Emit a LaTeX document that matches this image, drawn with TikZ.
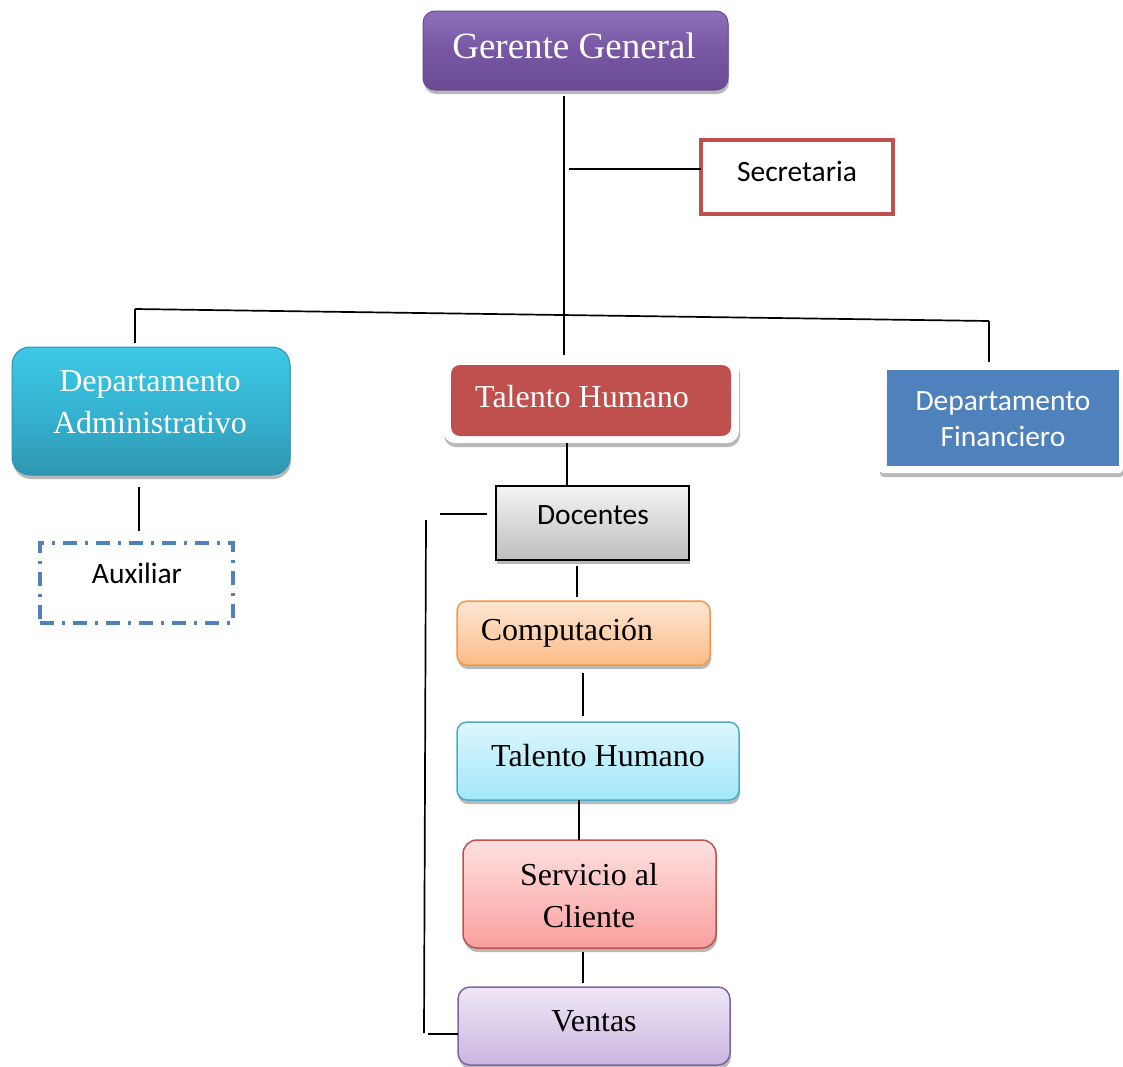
\documentclass[tikz,border=0pt]{standalone}
\usepackage{fontspec}
\setmainfont{Liberation Serif}
\newfontfamily\calfont{Carlito}
\usetikzlibrary{shadows}
\definecolor{ggtop}{HTML}{8E6FBA}
\definecolor{ggmid}{HTML}{7757A3}
\definecolor{ggbot}{HTML}{6B4B93}
\definecolor{ggdraw}{HTML}{6A4A92}
\definecolor{admtop}{HTML}{3CC8E6}
\definecolor{admmid}{HTML}{35B3D1}
\definecolor{admbot}{HTML}{2F97B1}
\definecolor{admdraw}{HTML}{2E93AD}
\definecolor{thred}{HTML}{C0504D}
\definecolor{finblue}{HTML}{4F81BD}
\definecolor{doctop}{HTML}{F4F4F4}
\definecolor{docbot}{HTML}{BEBEBE}
\definecolor{comptop}{HTML}{FEE6D3}
\definecolor{compbot}{HTML}{FBBC88}
\definecolor{compdraw}{HTML}{F79646}
\definecolor{thtop}{HTML}{DDF6FD}
\definecolor{thbot}{HTML}{A2E7FA}
\definecolor{thdraw}{HTML}{4BACC6}
\definecolor{servtop}{HTML}{FFE0E0}
\definecolor{servbot}{HTML}{F8A09E}
\definecolor{ventop}{HTML}{EEE7F6}
\definecolor{venbot}{HTML}{CBB6E0}
\definecolor{vendraw}{HTML}{8064A2}
\tikzset{
  conn/.style={line width=1.7pt, draw=black},
  box/.style={inner sep=0pt, outer sep=0pt},
  shad/.style={drop shadow={shadow xshift=1pt, shadow yshift=-4pt, opacity=0.28, fill=black}},
  serif/.style={font=\fontsize{32}{42}\selectfont, text=black, align=center, inner sep=0pt},
  wserif/.style={serif, text=white},
  cal/.style={font=\calfont\fontsize{29.5}{36}\selectfont, text=black, align=center, inner sep=0pt},
  wcal/.style={cal, text=white}
}
\begin{document}
\begin{tikzpicture}[x=1pt,y=-1pt]
\useasboundingbox[fill=white] (0,0) rectangle (1123,1066);

% Gerente General
\node[box, shad, rounded corners=12pt, minimum width=305pt, minimum height=79pt,
      top color=ggtop, bottom color=ggbot, middle color=ggmid, draw=ggdraw, line width=1pt]
      (gg) at (575.5,50.5) {};
\node[wserif, font=\fontsize{37}{40}\selectfont] at (574,46) {Gerente General};

% Secretaria
\node[box, minimum width=192pt, minimum height=74pt, draw=thred, line width=3.5pt, fill=white]
      (sec) at (797,177) {};
\node[cal] at (797,171) {Secretaria};

% Departamento Administrativo
\node[box, shad, rounded corners=18pt, minimum width=278pt, minimum height=128pt,
      top color=admtop, bottom color=admbot, middle color=admmid, draw=admdraw, line width=1pt]
      (adm) at (151,411) {};
\node[wserif] at (150,402) {Departamento\\Administrativo};

% Talento Humano (top)
\node[box, shad, rounded corners=12pt, minimum width=296pt, minimum height=86pt, fill=white]
      (thframe) at (591,400) {};
\node[box, rounded corners=9pt, minimum width=280pt, minimum height=71pt, fill=thred]
      (th) at (591,400.5) {};
\node[wserif] at (582,397) {Talento Humano};

% Departamento Financiero
\node[box, shad, rounded corners=4pt, minimum width=244pt, minimum height=111pt, fill=white]
      (finframe) at (1001,417.5) {};
\node[box, minimum width=232pt, minimum height=96pt, fill=finblue]
      (fin) at (1003,418) {};
\node[wcal] at (1003,419) {Departamento\\Financiero};

% Auxiliar
\node[box, minimum width=193pt, minimum height=80pt, draw=finblue, line width=3.5pt,
      dash pattern=on 14pt off 8pt on 3pt off 8pt]
      (aux) at (136.5,583) {};
\node[cal] at (137,573) {Auxiliar};

% Docentes
\node[box, shad, minimum width=193pt, minimum height=74pt, top color=doctop, bottom color=docbot,
      draw=black, line width=2pt]
      (doc) at (592.5,523) {};
\node[cal] at (593,515) {Docentes};

% Computacion
\node[box, shad, rounded corners=10pt, minimum width=253pt, minimum height=64pt,
      top color=comptop, bottom color=compbot, draw=compdraw, line width=1.5pt]
      (comp) at (583.5,633) {};
\node[serif] at (567,633) {Computación};

% Talento Humano (second)
\node[box, shad, rounded corners=10pt, minimum width=282pt, minimum height=78pt,
      top color=thtop, bottom color=thbot, draw=thdraw, line width=1.5pt]
      (th2) at (598,761) {};
\node[serif] at (598,756) {Talento Humano};

% Servicio al Cliente
\node[box, shad, rounded corners=14pt, minimum width=253pt, minimum height=108pt,
      top color=servtop, bottom color=servbot, draw=thred, line width=1.5pt]
      (serv) at (589.5,894) {};
\node[serif] at (589,896) {Servicio al\\Cliente};

% Ventas
\node[box, shad, rounded corners=12pt, minimum width=272pt, minimum height=78pt,
      top color=ventop, bottom color=venbot, draw=vendraw, line width=1.5pt]
      (ven) at (594,1026) {};
\node[serif] at (594,1021) {Ventas};

% connector end points
\coordinate (ggb) at (564,96);
\coordinate (tht) at (564,355);
\coordinate (secl) at (569,169);
\coordinate (secr) at (sec.west |- secl);
\coordinate (barl) at (135,309);
\coordinate (barr) at (989,321);
\coordinate (admt) at (135,343);
\coordinate (fint) at (989,362);
\coordinate (admb) at (139,487);
\coordinate (auxt) at (139,531);
\coordinate (thb) at (567,443);
\coordinate (doct) at (567,485);
\coordinate (docl) at (487,514);
\coordinate (brl) at (440,514);
\coordinate (vtop) at (426,520);
\coordinate (vbot) at (424,1033);
\coordinate (venl0) at (428,1034);
\coordinate (venl) at (ven.west |- venl0);
\coordinate (docb) at (577,566);
\coordinate (compt) at (577,597);
\coordinate (compb) at (583,673);
\coordinate (th2t) at (583,716);
\coordinate (th2b) at (579,800);
\coordinate (servt) at (579,840);
\coordinate (servb) at (583,952);
\coordinate (vent) at (583,983);

\draw[conn] (ggb) -- (tht);
\draw[conn] (secl) -- (secr);
\draw[conn] (barl) -- (barr);
\draw[conn] (barl) -- (admt);
\draw[conn] (barr) -- (fint);
\draw[conn] (admb) -- (auxt);
\draw[conn] (thb) -- (doct);
\draw[conn] (brl) -- (docl);
\draw[conn] (vtop) -- (vbot);
\draw[conn] (venl0) -- (venl);
\draw[conn] (docb) -- (compt);
\draw[conn] (compb) -- (th2t);
\draw[conn] (th2b) -- (servt);
\draw[conn] (servb) -- (vent);
\end{tikzpicture}
\end{document}
